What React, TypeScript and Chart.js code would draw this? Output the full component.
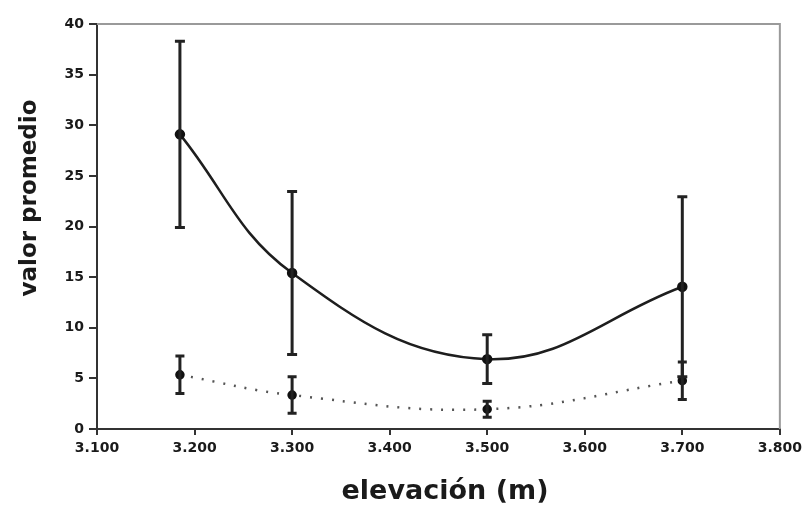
import React, { useEffect, useRef } from "react";
import { Chart, registerables } from "chart.js";

Chart.register(...registerables);

const elevations = [3185, 3300, 3500, 3700];
const mainValues = [29.1, 15.4, 6.9, 14.05];
const mainErrors = [9.2, 8.05, 2.4, 8.9];
const lowValues = [5.35, 3.35, 1.95, 4.77];
const lowErrors = [1.85, 1.8, 0.8, 1.85];
const xTicks = [3100, 3200, 3300, 3400, 3500, 3600, 3700, 3800];
const yTicks = [0, 5, 10, 15, 20, 25, 30, 35, 40];
const xTitle = "elevación (m)";
const yTitle = "valor promedio";

const FONT = "'DejaVu Sans', Verdana, sans-serif";

const errorBarPlugin = {
  id: "errorBars",
  afterDatasetsDraw(chart: any) {
    const ctx = chart.ctx;
    const xs = chart.scales.x;
    const ys = chart.scales.y;
    chart.data.datasets.forEach((ds: any) => {
      const errs: number[] = ds.errors;
      if (!errs) return;
      ctx.save();
      ctx.strokeStyle = ds.errColor;
      ctx.lineWidth = ds.errWidth;
      ds.data.forEach((p: any, j: number) => {
        const x = xs.getPixelForValue(p.x);
        const yTop = ys.getPixelForValue(p.y + errs[j]);
        const yBot = ys.getPixelForValue(p.y - errs[j]);
        const c = ds.capHalf;
        ctx.beginPath();
        ctx.moveTo(x, yTop);
        ctx.lineTo(x, yBot);
        ctx.moveTo(x - c, yTop);
        ctx.lineTo(x + c, yTop);
        ctx.moveTo(x - c, yBot);
        ctx.lineTo(x + c, yBot);
        ctx.stroke();
      });
      ctx.restore();
    });
  },
};

const framePlugin = {
  id: "frame",
  beforeDatasetsDraw(chart: any) {
    const { ctx, chartArea } = chart;
    ctx.save();
    ctx.strokeStyle = "#9a9a9a";
    ctx.lineWidth = 2;
    ctx.beginPath();
    ctx.moveTo(chartArea.left, chartArea.top);
    ctx.lineTo(chartArea.right, chartArea.top);
    ctx.lineTo(chartArea.right, chartArea.bottom);
    ctx.stroke();
    ctx.restore();
  },
  afterDraw(chart: any) {
    const { ctx } = chart;
    ctx.save();
    ctx.fillStyle = "#1a1a1a";
    ctx.textAlign = "center";
    ctx.textBaseline = "middle";
    ctx.font = `bold 27px ${FONT}`;
    ctx.fillText(xTitle, 445, 492);
    ctx.translate(30, 198);
    ctx.rotate(-Math.PI / 2);
    ctx.font = `bold 23px ${FONT}`;
    ctx.fillText(yTitle, 0, 0);
    ctx.restore();
  },
};

export default function App() {
  const ref = useRef<HTMLCanvasElement>(null);
  useEffect(() => {
    if (!ref.current) return;
    const chart = new Chart(ref.current, {
      type: "line",
      data: {
        datasets: [
          {
            data: elevations.map((x, i) => ({ x, y: mainValues[i] })),
            borderColor: "#1e1e1e",
            borderWidth: 2.5,
            pointRadius: 4,
            pointBackgroundColor: "#111",
            pointBorderColor: "#111",
            tension: 0.4,
            fill: false,
            errors: mainErrors,
            errColor: "#222",
            errWidth: 3,
            capHalf: 5,
          } as any,
          {
            data: elevations.map((x, i) => ({ x, y: lowValues[i] })),
            borderColor: "#555",
            borderWidth: 2.5,
            borderDash: [2, 9],
            pointRadius: 3.5,
            pointBackgroundColor: "#111",
            pointBorderColor: "#111",
            tension: 0.4,
            fill: false,
            errors: lowErrors,
            errColor: "#222",
            errWidth: 3,
            capHalf: 4.5,
          } as any,
        ],
      },
      options: {
        animation: false,
        responsive: false,
        maintainAspectRatio: false,
        layout: { padding: { top: 24, right: 26, bottom: 0, left: 0 } },
        plugins: {
          legend: { display: false },
          tooltip: { enabled: false },
        },
        scales: {
          x: {
            type: "linear",
            min: 3100,
            max: 3800,
            afterFit: (s: any) => {
              s.height = 86;
            },
            afterBuildTicks: (s: any) => {
              s.ticks = xTicks.map((v) => ({ value: v }));
            },
            border: { display: true, color: "#333", width: 2 },
            grid: {
              drawOnChartArea: false,
              drawTicks: true,
              tickLength: 6,
              color: "#333",
              lineWidth: 2,
            },
            ticks: {
              padding: 5,
              color: "#1a1a1a",
              font: { family: FONT, size: 14, weight: "bold" },
              maxRotation: 0,
              callback: (v: any) => (Number(v) / 1000).toFixed(3),
            },
          },
          y: {
            type: "linear",
            min: 0,
            max: 40,
            afterFit: (s: any) => {
              s.width = 97;
            },
            afterBuildTicks: (s: any) => {
              s.ticks = yTicks.map((v) => ({ value: v }));
            },
            border: { display: true, color: "#333", width: 2 },
            grid: {
              drawOnChartArea: false,
              drawTicks: true,
              tickLength: 8,
              color: "#333",
              lineWidth: 2,
            },
            ticks: {
              padding: 5,
              color: "#1a1a1a",
              font: { family: FONT, size: 14, weight: "bold" },
            },
          },
        },
      } as any,
      plugins: [framePlugin, errorBarPlugin],
    });
    return () => chart.destroy();
  }, []);
  return (
    <div style={{ position: "absolute", left: 0, top: 0, width: 807, height: 515, background: "#fff" }}>
      <canvas ref={ref} width={807} height={515} style={{ width: 807, height: 515 }} />
    </div>
  );
}
